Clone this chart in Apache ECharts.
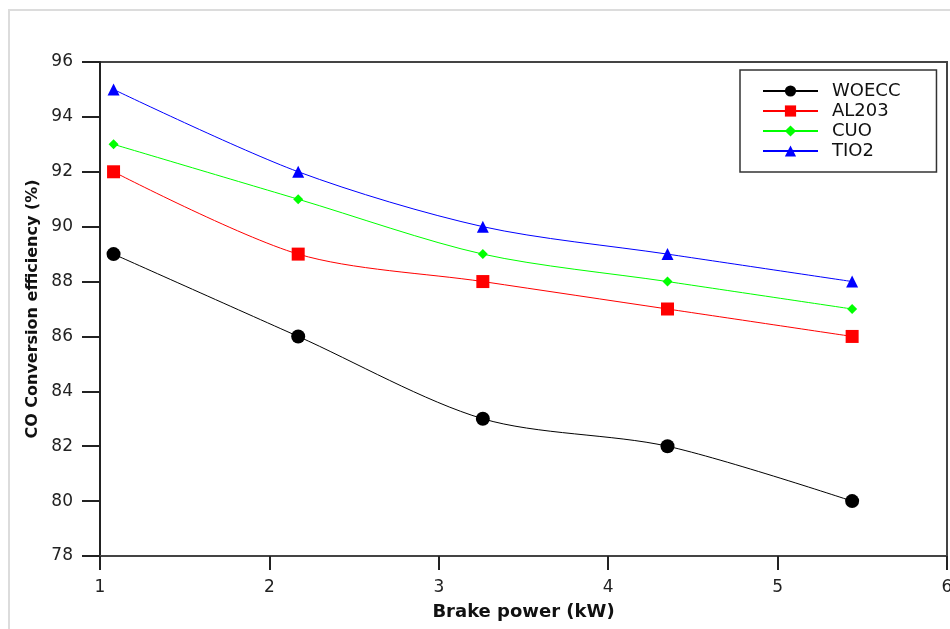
<!DOCTYPE html>
<html>
<head>
<meta charset="utf-8">
<script src="https://cdn.jsdelivr.net/npm/echarts@6/dist/echarts.min.js"></script>
<style>
  html, body { margin: 0; padding: 0; background: #fff; }
  #main { width: 950px; height: 629px; }
</style>
</head>
<body>
<div id="main"></div>
<script>
var brakePower = [1.08, 2.17, 3.26, 4.35, 5.44];
var woecc = [89, 86, 83, 82, 80];
var al203 = [92, 89, 88, 87, 86];
var cuo = [93, 91, 89, 88, 87];
var tio2 = [95, 92, 90, 89, 88];

function pairs(ys) {
    return ys.map(function (y, i) { return [brakePower[i], y]; });
}

var font = 'DejaVu Sans';
var myChart = echarts.init(document.getElementById('main'));

function mkSeries(name, ys, color, symbol, size) {
    return {
        name: name,
        type: 'line',
        data: pairs(ys),
        smooth: 0.3,
        symbol: symbol,
        symbolSize: size,
        lineStyle: { color: color, width: 1 },
        itemStyle: { color: color },
        emphasis: { disabled: true }
    };
}

myChart.setOption({
    backgroundColor: '#fff',
    animation: false,
    graphic: [{
        type: 'rect',
        shape: { x: 9, y: 10, width: 960, height: 640 },
        style: { fill: 'none', stroke: '#dcdcdc', lineWidth: 2 },
        silent: true
    }],
    grid: {
        left: 100, right: 3, top: 62, bottom: 73,
        outerBoundsMode: 'none',
        show: true, borderColor: '#444', borderWidth: 2
    },
    legend: {
        orient: 'vertical',
        left: 740, top: 70,
        padding: [11, 36, 11, 22],
        borderColor: '#333', borderWidth: 1.5,
        itemWidth: 55, itemHeight: 14, itemGap: 0,
        textStyle: { fontFamily: font, fontSize: 18, color: '#111', lineHeight: 20, padding: [0, 0, 0, 9] },
        data: ['WOECC', 'AL203', 'CUO', 'TIO2']
    },
    xAxis: {
        type: 'value', min: 1, max: 6, interval: 1,
        name: 'Brake power (kW)', nameLocation: 'middle', nameGap: 47,
        nameTextStyle: { fontFamily: font, fontSize: 18, fontWeight: 'bold', color: '#111' },
        axisLine: { show: true, lineStyle: { color: '#444', width: 2 } },
        axisTick: { show: true, length: 14, lineStyle: { color: '#222', width: 2 } },
        axisLabel: { fontFamily: font, fontSize: 17, color: '#222', margin: 23 },
        splitLine: { show: false }
    },
    yAxis: {
        type: 'value', min: 78, max: 96, interval: 2,
        name: 'CO Conversion efficiency (%)', nameLocation: 'middle', nameGap: 57,
        nameRotate: 90,
        nameTextStyle: { fontFamily: font, fontSize: 16, fontWeight: 'bold', color: '#111' },
        axisLine: { show: true, lineStyle: { color: '#222', width: 2 } },
        axisTick: { show: true, length: 18, lineStyle: { color: '#222', width: 2 } },
        axisLabel: { fontFamily: font, fontSize: 17, color: '#222', margin: 27 },
        splitLine: { show: false }
    },
    series: [
        mkSeries('WOECC', woecc, '#000000', 'circle', 14),
        mkSeries('AL203', al203, '#ff0000', 'rect', 13),
        mkSeries('CUO', cuo, '#00ff00', 'diamond', 10),
        mkSeries('TIO2', tio2, '#0000ff', 'triangle', 12)
    ]
});
</script>
</body>
</html>
